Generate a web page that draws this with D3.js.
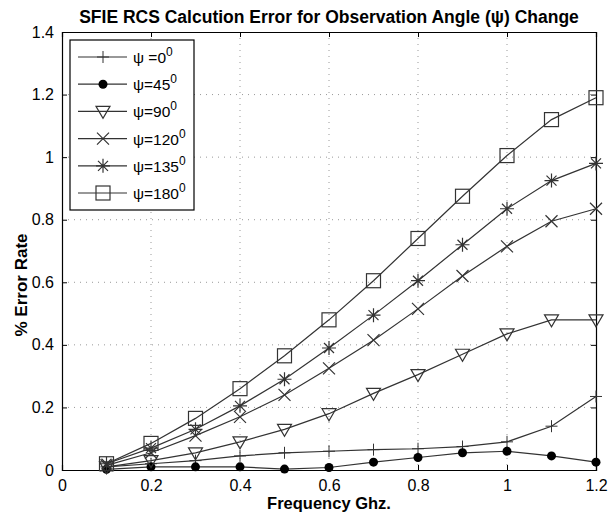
<!DOCTYPE html>
<html>
<head>
<meta charset="utf-8">
<script src="https://cdn.jsdelivr.net/npm/d3@7"></script>
<style>
  body { margin: 0; background: #fff; }
  text { font-family: "Liberation Sans", Arial, sans-serif; }
</style>
</head>
<body>
<div id="chart"></div>
<script>
// frequency (GHz)
const freqs = [0.1, 0.2, 0.3, 0.4, 0.5, 0.6, 0.7, 0.8, 0.9, 1.0, 1.1, 1.2];
// % error for each observation angle
const err0   = [0.01, 0.02, 0.03, 0.045, 0.055, 0.06, 0.065, 0.068, 0.075, 0.09, 0.14, 0.235];
const err45  = [0.002, 0.01, 0.01, 0.01, 0.003, 0.008, 0.025, 0.04, 0.055, 0.06, 0.045, 0.025];
const err90  = [0.01, 0.03, 0.055, 0.09, 0.13, 0.18, 0.245, 0.305, 0.37, 0.435, 0.48, 0.48];
const err120 = [0.015, 0.055, 0.11, 0.17, 0.24, 0.325, 0.415, 0.515, 0.62, 0.715, 0.795, 0.835];
const err135 = [0.02, 0.07, 0.13, 0.205, 0.29, 0.39, 0.495, 0.605, 0.72, 0.835, 0.925, 0.98];
const err180 = [0.02, 0.085, 0.165, 0.26, 0.365, 0.48, 0.605, 0.74, 0.875, 1.005, 1.12, 1.19];
const angles = ["0", "45", "90", "120", "135", "180"];
const markerKinds = ["plus", "dot", "tri", "cross", "star", "square"];
const xTicks = [0, 0.2, 0.4, 0.6, 0.8, 1, 1.2];
const yTicks = [0, 0.2, 0.4, 0.6, 0.8, 1, 1.2, 1.4];

const allSeries = [err0, err45, err90, err120, err135, err180];

const width = 614, height = 513;
const margin = {top: 32, right: 18, bottom: 43, left: 62};
const innerW = width - margin.left - margin.right;
const innerH = height - margin.top - margin.bottom;
const lineColor = "#333";

const svg = d3.select("#chart").append("svg")
  .attr("width", width)
  .attr("height", height);

const x = d3.scaleLinear().domain([0, 1.2]).range([0, innerW]);
const y = d3.scaleLinear().domain([0, 1.4]).range([innerH, 0]);

const g = svg.append("g").attr("transform", `translate(${margin.left},${margin.top})`);

// dotted grid
g.append("g").selectAll("line").data(xTicks.slice(1, -1)).join("line")
  .attr("x1", d => x(d)).attr("x2", d => x(d))
  .attr("y1", 0).attr("y2", innerH)
  .attr("stroke", "#999").attr("stroke-width", 1).attr("stroke-dasharray", "1,5");
g.append("g").selectAll("line").data(yTicks.slice(1, -1)).join("line")
  .attr("y1", d => y(d)).attr("y2", d => y(d))
  .attr("x1", 0).attr("x2", innerW)
  .attr("stroke", "#999").attr("stroke-width", 1).attr("stroke-dasharray", "1,5");

// axes with inward ticks
const fmt = d => d3.format("~g")(d);
const xAxisB = g.append("g").attr("transform", `translate(0,${innerH})`)
  .call(d3.axisBottom(x).tickValues(xTicks).tickFormat(fmt).tickSize(-5).tickPadding(10));
const xAxisT = g.append("g")
  .call(d3.axisTop(x).tickValues(xTicks).tickFormat("").tickSize(-5));
const yAxisL = g.append("g")
  .call(d3.axisLeft(y).tickValues(yTicks).tickFormat(fmt).tickSize(-5).tickPadding(8));
const yAxisR = g.append("g").attr("transform", `translate(${innerW},0)`)
  .call(d3.axisRight(y).tickValues(yTicks).tickFormat("").tickSize(-5));

[xAxisB, xAxisT, yAxisL, yAxisR].forEach(a => {
  a.select(".domain").attr("stroke", "#000").attr("stroke-width", 1.2);
  a.selectAll(".tick line").attr("stroke", "#000");
  a.selectAll("text").attr("font-size", 16).attr("fill", "#000")
    .style("font-family", "Liberation Sans, Arial, sans-serif");
});

// marker drawing
function drawMarker(sel, kind) {
  const s = lineColor;
  if (kind === "plus") {
    sel.append("path").attr("d", "M-6,0H6M0,-6V6").attr("stroke", s).attr("fill", "none");
  } else if (kind === "dot") {
    sel.append("circle").attr("r", 4.5).attr("fill", "#000");
  } else if (kind === "tri") {
    sel.append("path").attr("d", "M-7,-5L7,-5L0,7Z").attr("stroke", s).attr("fill", "none").attr("stroke-width", 1.2);
  } else if (kind === "cross") {
    sel.append("path").attr("d", "M-6,-6L6,6M-6,6L6,-6").attr("stroke", s).attr("fill", "none").attr("stroke-width", 1.2);
  } else if (kind === "star") {
    sel.append("path").attr("d", "M-7,0H7M0,-7V7M-5,-5L5,5M-5,5L5,-5").attr("stroke", s).attr("fill", "none").attr("stroke-width", 1.2);
  } else if (kind === "square") {
    sel.append("rect").attr("x", -7).attr("y", -7).attr("width", 14).attr("height", 14)
      .attr("stroke", s).attr("fill", "none").attr("stroke-width", 1.2);
  }
}

const line = d3.line().x((d, i) => x(freqs[i])).y(d => y(d));

allSeries.forEach((vals, k) => {
  g.append("path")
    .attr("d", line(vals))
    .attr("fill", "none")
    .attr("stroke", lineColor)
    .attr("stroke-width", 1.2);
  vals.forEach((v, i) => {
    const m = g.append("g").attr("transform", `translate(${x(freqs[i])},${y(v)})`);
    drawMarker(m, markerKinds[k]);
  });
});

// legend
const legend = svg.append("g").attr("transform", "translate(70,40)");
legend.append("rect")
  .attr("width", 124).attr("height", 170)
  .attr("fill", "#fff").attr("stroke", "#000").attr("stroke-width", 1.2);
angles.forEach((a, k) => {
  const yy = 17 + k * 27.2;
  const row = legend.append("g").attr("transform", `translate(0,${yy})`);
  row.append("line").attr("x1", 8).attr("x2", 57).attr("y1", 0).attr("y2", 0)
    .attr("stroke", lineColor).attr("stroke-width", 1.2);
  drawMarker(row.append("g").attr("transform", "translate(33,0)"), markerKinds[k]);
  const t = row.append("text").attr("x", 63).attr("y", 6)
    .attr("font-size", 15.5).attr("fill", "#000");
  t.append("tspan").text(k === 0 ? "ψ =" + a : "ψ=" + a);
  t.append("tspan").attr("dy", -7).attr("font-size", 12).text("0");
});

// title and axis labels
svg.append("text")
  .attr("x", 329).attr("y", 23)
  .attr("text-anchor", "middle")
  .attr("font-size", 17.5).attr("font-weight", "bold")
  .text("SFIE RCS Calcution Error for Observation Angle (ψ) Change");

svg.append("text")
  .attr("x", 329).attr("y", 509)
  .attr("text-anchor", "middle")
  .attr("font-size", 16.5).attr("font-weight", "bold")
  .text("Frequency Ghz.");

svg.append("text")
  .attr("transform", "translate(27,285) rotate(-90)")
  .attr("text-anchor", "middle")
  .attr("font-size", 17).attr("font-weight", "bold")
  .text("% Error Rate");
</script>
</body>
</html>
